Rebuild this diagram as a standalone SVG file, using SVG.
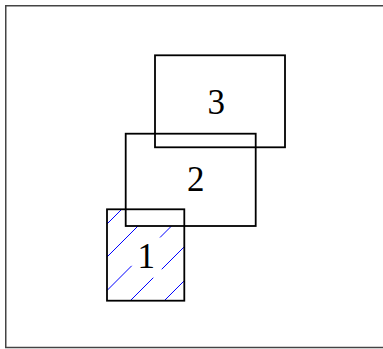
<svg xmlns="http://www.w3.org/2000/svg" width="383" height="349" viewBox="0 0 383 349">
<style>
.box{fill:none;stroke:#000;stroke-width:1.8}
.lbl{font-family:"Liberation Serif","Times New Roman",serif;font-size:35px;fill:#000;text-anchor:middle}
.hatch{stroke:#0000ff;stroke-width:1;fill:none}
</style>
<rect x="0" y="0" width="383" height="349" fill="#fff"/>
<rect x="5.75" y="5.75" width="400" height="341.75" fill="none" stroke="#444" stroke-width="1.5"/>
<g id="node1">
<path class="hatch" d="M107,224L121.7,209.3M107,257L138,226M107,290.5L131.7,265.8M160,237.5L171.5,226M130.3,300.7L153.3,277.7M161.7,269.3L184.3,246.7M164.3,300.7L184.3,280.7"/>
<rect class="box" x="107" y="209.3" width="77.3" height="91.4"/>
<text class="lbl" x="146.3" y="268.3">1</text>
</g>
<g id="node2">
<rect class="box" x="125.7" y="133.7" width="130" height="92.3"/>
<text class="lbl" x="195.8" y="190.5">2</text>
</g>
<g id="node3">
<rect class="box" x="155" y="55.3" width="130" height="92"/>
<text class="lbl" x="216.3" y="113.5">3</text>
</g>
<g id="connectors"></g>
</svg>
